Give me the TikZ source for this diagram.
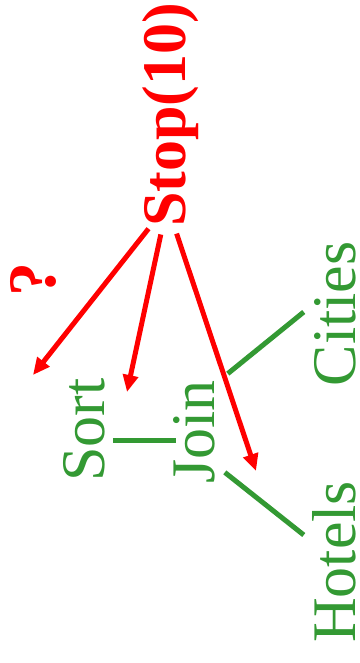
\documentclass[tikz,border=0pt]{standalone}
\usepackage{fontspec}
\setmainfont{Liberation Serif}
\usetikzlibrary{arrows.meta}
\definecolor{planRed}{HTML}{FF0000}
\definecolor{planGreen}{HTML}{339933}

\begin{document}
\begin{tikzpicture}[
        x=1pt, y=-1pt,
        op/.style={rotate=90, anchor=base, inner sep=0pt,
            font=\fontsize{62}{70}\selectfont},
        rel/.style={op, text=planGreen},
        stopop/.style={op, text=planRed, font=\fontsize{62}{70}\selectfont\bfseries},
        edge/.style={draw=planGreen, line width=5pt},
        push/.style={draw=planRed, line width=5pt,
            -{Triangle[length=17pt, width=15pt]}, shorten <=30pt},
        ]
        \useasboundingbox (0,0) rectangle (359,663);

        % Root
        \node[stopop] (stop) at (185,115) {Stop(10)};
        \node[stopop, font=\fontsize{68}{76}\selectfont\bfseries] (qmark) at (55,279) {?};

        % Plan
        \node[rel] (sort) at (104,430) {Sort};
        \node[rel] (join) at (214,432) {Join};
        \node[rel] (cities) at (355.5,314) {Cities};
        \node[rel] (hotels) at (355.5,562) {Hotels};

        \draw[edge] ([shift={(8,10)}]sort.south) -- ([shift={(3,8)}]join.north);
        \draw[edge] ([shift={(13,-6.5)}]join.south east) -- ([shift={(-10.5,-2)}]cities.north);
        \draw[edge] ([shift={(10,-11.5)}]join.south west) -- ([shift={(-8.5,-27)}]hotels.north);

        % Push-down targets
        \coordinate (above-sort) at (33,375);
        \coordinate (sort-join) at (127,392);
        \coordinate (join-hotels) at (256,471);
        \draw[push] ([shift={(-3,-22)}]stop.west) -- (above-sort);
        \draw[push] ([shift={(-3,-22)}]stop.west) -- (sort-join);
        \draw[push] ([shift={(-3,-22)}]stop.west) -- (join-hotels);
    \end{tikzpicture}
\end{document}
